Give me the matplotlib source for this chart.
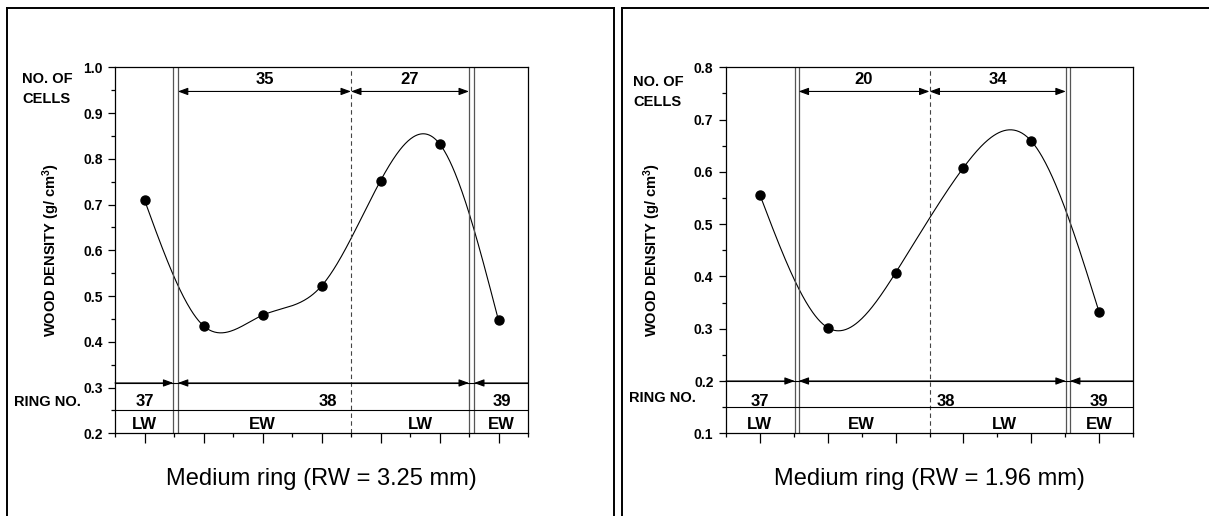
import numpy as np
import matplotlib
matplotlib.use("Agg")
import matplotlib.pyplot as plt
from matplotlib.lines import Line2D
from matplotlib.ticker import MultipleLocator, FormatStrFormatter

plt.rcParams['font.family'] = ['Liberation Sans', 'DejaVu Sans']
plt.rcParams['mathtext.default'] = 'regular'

# ---- data, left panel (RW = 3.25 mm)
left_pos = [1, 2, 3, 4, 5, 6, 7]
left_density = [0.71, 0.435, 0.458, 0.522, 0.752, 0.833, 0.447]
left_ylim = (0.2, 1.0)
left_cells = ['35', '27']
left_bounds = [(1.49, 1.565), (6.5, 6.585)]   # ring borders (double lines)
left_ew_lw = 4.5                               # earlywood / latewood limit
left_ring_y = 0.31
left_zone_y = 0.25
left_title = 'Medium ring (RW = 3.25 mm)'

# ---- data, right panel (RW = 1.96 mm)
right_pos = [1, 2, 3, 4, 5, 6]
right_density = [0.556, 0.302, 0.407, 0.608, 0.659, 0.332]
right_ylim = (0.1, 0.8)
right_cells = ['20', '34']
right_bounds = [(1.515, 1.57), (5.51, 5.57)]
right_ew_lw = 3.5
right_ring_y = 0.2
right_zone_y = 0.15
right_title = 'Medium ring (RW = 1.96 mm)'

ring_labels = ['37', '38', '39']
zone_labels = ['LW', 'EW', 'LW', 'EW']


def natural_spline(x, y, xs):
    x = np.asarray(x, float)
    y = np.asarray(y, float)
    n = len(x)
    h = np.diff(x)
    A = np.zeros((n, n))
    b = np.zeros(n)
    A[0, 0] = 1
    A[-1, -1] = 1
    for i in range(1, n - 1):
        A[i, i - 1] = h[i - 1]
        A[i, i] = 2 * (h[i - 1] + h[i])
        A[i, i + 1] = h[i]
        b[i] = 3 * ((y[i + 1] - y[i]) / h[i] - (y[i] - y[i - 1]) / h[i - 1])
    c = np.linalg.solve(A, b)
    out = np.empty_like(xs)
    for k, xv in enumerate(xs):
        i = min(max(np.searchsorted(x, xv, side='right') - 1, 0), n - 2)
        bb = (y[i + 1] - y[i]) / h[i] - h[i] * (2 * c[i] + c[i + 1]) / 3
        dd = (c[i + 1] - c[i]) / (3 * h[i])
        t = xv - x[i]
        out[k] = y[i] + bb * t + c[i] * t ** 2 + dd * t ** 3
    return out


def arrow(ax, x0, x1, y, style):
    ax.annotate('', xy=(x1, y), xytext=(x0, y),
                arrowprops=dict(arrowstyle=style + ',head_length=0.6,head_width=0.22',
                                color='black', lw=0.8, shrinkA=0, shrinkB=0,
                                mutation_scale=10))


def draw_panel(ax, pos, dens, ylim, cells, bounds, ew_lw, ring_y, zone_y,
               title, ylab_x, lab_x):
    y0, y1 = ylim
    span = y1 - y0
    xmin, xmax = 0.5, len(pos) + 0.5
    xs = np.linspace(pos[0], pos[-1], 400)
    ax.plot(xs, natural_spline(pos, dens, xs), color='black', lw=0.8)
    ax.plot(pos, dens, 'o', color='black', ms=6.5)

    ax.set_xlim(xmin, xmax)
    ax.set_ylim(y0, y1)

    # ring borders and EW/LW limit
    for a, b in bounds:
        ax.axvline(a, color='#555555', lw=0.9)
        ax.axvline(b, color='#555555', lw=0.9)
    ax.axvline(ew_lw, color='#444444', lw=0.8, ls=(0, (4, 3)))

    # number of cells arrows
    ya = y1 - span * 0.066
    arrow(ax, bounds[0][1], ew_lw, ya, '<|-|>')
    arrow(ax, ew_lw, bounds[1][0], ya, '<|-|>')
    ax.text((bounds[0][1] + ew_lw) / 2, y1 - span * 0.033, cells[0],
            ha='center', va='center', fontsize=12, fontweight='bold')
    ax.text((ew_lw + bounds[1][0]) / 2, y1 - span * 0.033, cells[1],
            ha='center', va='center', fontsize=12, fontweight='bold')

    # ring number arrows
    ax.axhline(ring_y, color='black', lw=0.8)
    ax.axhline(zone_y, color='black', lw=0.8)
    arrow(ax, xmin, bounds[0][0], ring_y, '-|>')
    arrow(ax, bounds[0][1], bounds[1][0], ring_y, '<|-|>')
    arrow(ax, bounds[1][1], xmax, ring_y, '<|-')

    for lx, lab in zip(lab_x[0], ring_labels):
        ax.text(lx, y0 + span * 0.088, lab, ha='center', va='center',
                fontsize=12, fontweight='bold')
    for lx, lab in zip(lab_x[1], zone_labels):
        ax.text(lx, y0 + span * 0.024, lab, ha='center', va='center',
                fontsize=12, fontweight='bold')

    # axis styling
    ax.yaxis.set_major_locator(MultipleLocator(0.1))
    ax.yaxis.set_minor_locator(MultipleLocator(0.05))
    ax.yaxis.set_major_formatter(FormatStrFormatter('%.1f'))
    ax.xaxis.set_major_locator(MultipleLocator(1))
    ax.xaxis.set_minor_locator(MultipleLocator(0.5))
    ax.set_xticklabels([])
    ax.tick_params(axis='y', which='major', length=5, width=0.9, pad=4,
                   labelsize=10)
    ax.tick_params(axis='y', which='minor', length=3, width=0.9)
    ax.tick_params(axis='x', which='major', length=7, width=0.9)
    ax.tick_params(axis='x', which='minor', length=3, width=0.9)
    for lab in ax.get_yticklabels():
        lab.set_fontweight('bold')
    for s in ax.spines.values():
        s.set_linewidth(0.9)

    ax.set_ylabel('WOOD DENSITY (g/ cm$^{3}$)', fontsize=10.5, fontweight='bold')
    ax.yaxis.set_label_coords(ylab_x, 0.5)
    ax.text(0.5, -0.125, title, transform=ax.transAxes, ha='center',
            va='center', fontsize=17)


fig = plt.figure(figsize=(12.09, 5.16), dpi=100)
W, H = 1209, 516

ax1 = fig.add_axes([115 / W, 1 - 433.3 / H, 413 / W, 366 / H])
ax2 = fig.add_axes([726 / W, 1 - 433.3 / H, 407 / W, 366 / H])

draw_panel(ax1, left_pos, left_density, left_ylim, left_cells, left_bounds,
           left_ew_lw, left_ring_y, left_zone_y, left_title, -53 / 413,
           ([1.0, 4.1, 7.05], [1.0, 3.0, 5.67, 7.05]))
draw_panel(ax2, right_pos, right_density, right_ylim, right_cells,
           right_bounds, right_ew_lw, right_ring_y, right_zone_y, right_title,
           -63 / 407, ([1.0, 3.74, 6.0], [1.0, 2.5, 4.6, 6.0]))

# side labels
for x, y, s in [(22, 79, 'NO. OF'), (22, 99, 'CELLS'), (14, 402, 'RING NO.'),
                (633, 82, 'NO. OF'), (633, 102, 'CELLS'),
                (629, 398, 'RING NO.')]:
    fig.text(x / W, 1 - y / H, s, fontsize=10.5, fontweight='bold',
             va='center', ha='left')


# panel frames
def frame(x0, x1):
    yt = 1 - 7.5 / H
    fig.add_artist(Line2D([x0 / W, x0 / W], [0, yt], color='black', lw=1.4))
    fig.add_artist(Line2D([x0 / W, x1 / W], [yt, yt], color='black', lw=1.4))
    if x1 < W:
        fig.add_artist(Line2D([x1 / W, x1 / W], [0, yt], color='black', lw=1.4))


frame(7, 614)
frame(621.5, W + 5)

fig.savefig('out.png', dpi=100)
